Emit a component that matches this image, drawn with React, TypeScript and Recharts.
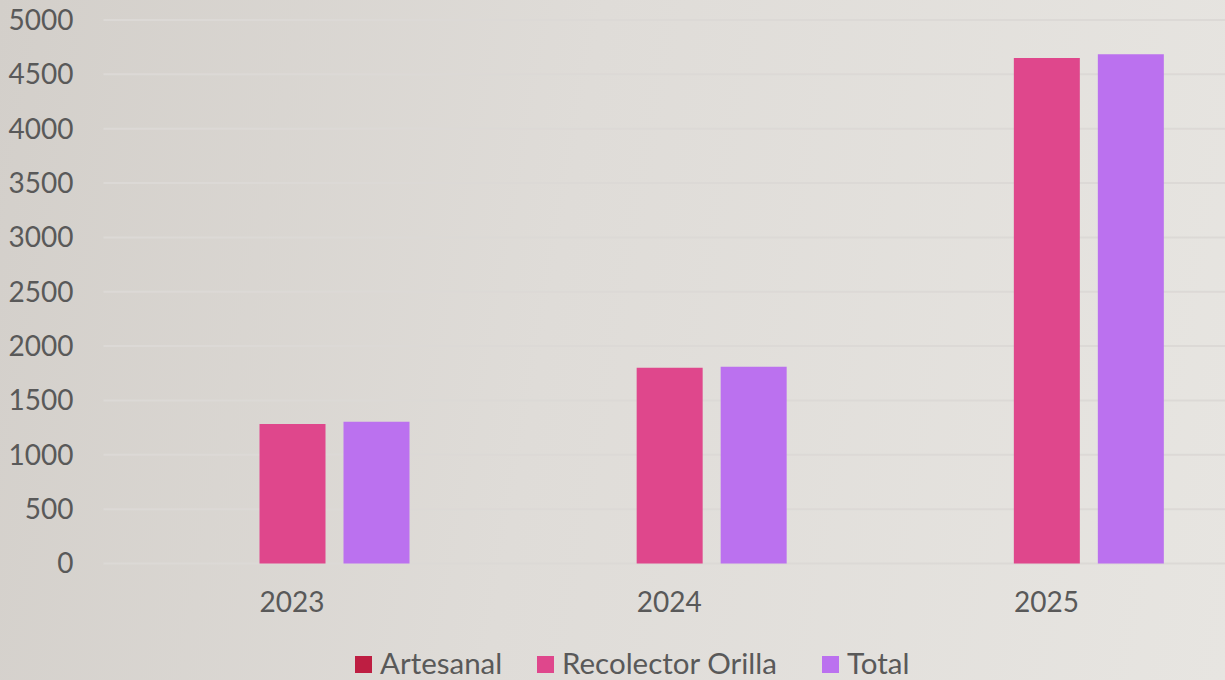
import React from 'react';
import { BarChart, Bar, XAxis, YAxis, CartesianGrid, Legend } from 'recharts';

const years = ['2023', '2024', '2025'];
const artesanal = [0, 0, 0];
const recolectorOrilla = [1283, 1801, 4650];
const total = [1304, 1810, 4684];
const yTicks = [0, 500, 1000, 1500, 2000, 2500, 3000, 3500, 4000, 4500, 5000];

const seriesNames = ['Artesanal', 'Recolector Orilla', 'Total'];
const seriesColors = ['#be1e42', '#df478c', '#bb71ef'];

const data = years.map((y, i) => ({
  year: y,
  artesanal: artesanal[i],
  recolector: recolectorOrilla[i],
  total: total[i],
}));

const FONT = 'Lato, "Open Sans", sans-serif';
const TEXT = '#595959';
const legendItemWidths = [182, 285, 120];

const LegendContent = () => (
  <div
    style={{
      display: 'flex',
      alignItems: 'center',
      height: 34,
      paddingLeft: 355,
      fontFamily: FONT,
      fontSize: 29.5,
      color: TEXT,
    }}
  >
    {seriesNames.map((n, i) => (
      <div key={n} style={{ display: 'flex', alignItems: 'center', width: legendItemWidths[i] }}>
        <span style={{ width: 17, height: 17, background: seriesColors[i], display: 'inline-block', marginRight: 8, marginTop: 3, flexShrink: 0 }} />
        <span style={{ lineHeight: '34px', whiteSpace: 'nowrap' }}>{n}</span>
      </div>
    ))}
  </div>
);

export default function App() {
  return (
    <div
      style={{
        position: 'fixed',
        top: 0,
        left: 0,
        width: 1225,
        height: 680,
        overflow: 'hidden',
        background: 'linear-gradient(100deg, #d3cfca 0%, #dfdcd8 45%, #e7e5e1 100%)',
      }}
    >
      <BarChart
        width={1235}
        height={680}
        data={data}
        margin={{ top: 20, right: 0, bottom: 0, left: 0 }}
        barCategoryGap={71.5}
        barGap={18}
        barSize={66}
      >
        <CartesianGrid horizontal vertical={false} stroke="#dcd9d6" strokeWidth={2} />
        <XAxis
          dataKey="year"
          axisLine={false}
          tickLine={false}
          tickSize={0}
          tickMargin={29}
          height={82.5}
          tick={{ fill: TEXT, fontSize: 28, fontFamily: FONT }}
        />
        <YAxis
          domain={[0, 5000]}
          ticks={yTicks}
          axisLine={false}
          tickLine={false}
          tickSize={0}
          tickMargin={30}
          width={103.5}
          interval={0}
          tick={{ fill: TEXT, fontSize: 28, fontFamily: FONT }}
        />
        <Legend verticalAlign="bottom" content={<LegendContent />} wrapperStyle={{ left: 0, width: 1225 }} />
        <Bar dataKey="artesanal" name={seriesNames[0]} fill={seriesColors[0]} isAnimationActive={false} />
        <Bar dataKey="recolector" name={seriesNames[1]} fill={seriesColors[1]} isAnimationActive={false} />
        <Bar dataKey="total" name={seriesNames[2]} fill={seriesColors[2]} isAnimationActive={false} />
      </BarChart>
    </div>
  );
}
